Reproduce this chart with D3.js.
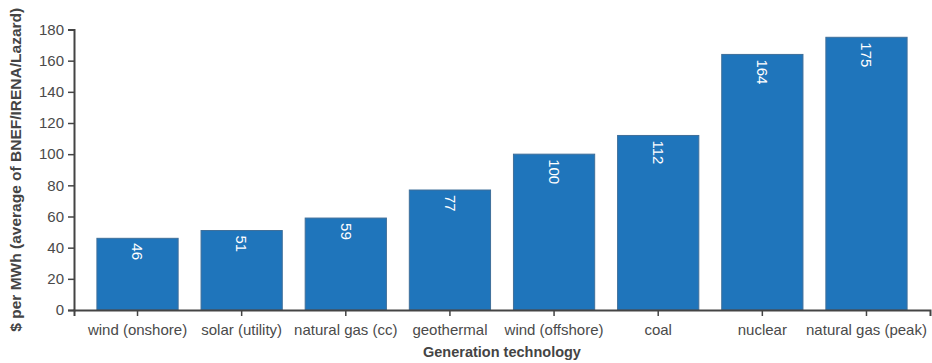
<!DOCTYPE html>
<html>
<head>
<meta charset="utf-8">
<script src="https://cdn.jsdelivr.net/npm/d3@7"></script>
<style>
  html, body { margin: 0; padding: 0; background: #fff; }
  svg { display: block; font-family: "Liberation Sans", Arial, sans-serif; }
</style>
</head>
<body>
<svg id="chart" width="932" height="363"></svg>
<script>
// Levelized cost of electricity by generation technology ($/MWh)
const technologies = ["wind (onshore)", "solar (utility)", "natural gas (cc)", "geothermal",
  "wind (offshore)", "coal", "nuclear", "natural gas (peak)"];
const costs = [46, 51, 59, 77, 100, 112, 164, 175];
const yTicks = [0, 20, 40, 60, 80, 100, 120, 140, 160, 180];

const svg = d3.select("#chart");
const plotLeft = 74, plotRight = 930, plotTop = 29.5, plotBottom = 310;

const x = d3.scaleBand().domain(technologies).range([plotLeft, plotRight]).padding(0.22);
const y = d3.scaleLinear().domain([0, 180]).range([plotBottom, plotTop]);

// bars
svg.append("g").selectAll("rect")
  .data(costs)
  .join("rect")
  .attr("x", (d, i) => x(technologies[i]))
  .attr("y", d => y(d))
  .attr("width", x.bandwidth())
  .attr("height", d => y(0) - y(d))
  .attr("fill", "#1f75bb")
  .attr("stroke", "#3f6f9a")
  .attr("stroke-width", 1);

// value labels, rotated to read downward
svg.append("g").selectAll("text")
  .data(costs)
  .join("text")
  .attr("transform", (d, i) => `translate(${x(technologies[i]) + x.bandwidth() / 2},${y(d) + 5}) rotate(90)`)
  .attr("dy", "0.35em")
  .attr("text-anchor", "start")
  .attr("fill", "#fff")
  .attr("font-size", 15)
  .text(d => d);

// y axis
const yAxis = svg.append("g")
  .attr("transform", `translate(${plotLeft},0)`)
  .call(d3.axisLeft(y).tickValues(yTicks).tickSize(6).tickPadding(4));

// x axis
const xAxis = svg.append("g")
  .attr("transform", `translate(0,${plotBottom})`)
  .call(d3.axisBottom(x).tickSize(6).tickPadding(8));

[yAxis, xAxis].forEach(g => {
  g.selectAll(".domain").attr("stroke", "#444").attr("stroke-width", 2);
  g.selectAll(".tick line").attr("stroke", "#444").attr("stroke-width", 1.5);
  g.selectAll(".tick text").attr("fill", "#4a4a4a").attr("font-size", 15)
    .attr("font-family", "\"Liberation Sans\", Arial, sans-serif");
});

// axis titles
svg.append("text")
  .attr("x", (plotLeft + plotRight) / 2)
  .attr("y", 357)
  .attr("text-anchor", "middle")
  .attr("font-weight", "bold")
  .attr("font-size", 14.5)
  .attr("fill", "#444")
  .text("Generation technology");

svg.append("text")
  .attr("transform", `translate(21,${(plotTop + plotBottom) / 2}) rotate(-90)`)
  .attr("text-anchor", "middle")
  .attr("font-weight", "bold")
  .attr("font-size", 15.5)
  .attr("fill", "#444")
  .text("$ per MWh (average of BNEF/IRENA/Lazard)");
</script>
</body>
</html>
